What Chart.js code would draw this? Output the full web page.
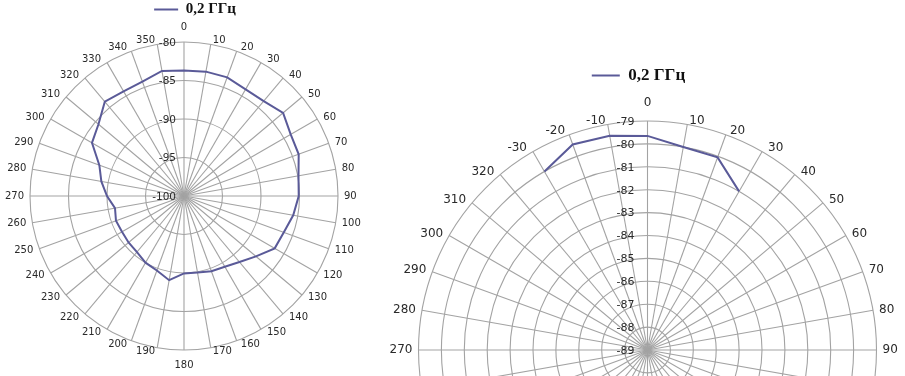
<!DOCTYPE html>
<html><head><meta charset="utf-8">
<script src="https://cdn.jsdelivr.net/npm/chart.js@4/dist/chart.umd.min.js"></script>
<style>
html,body{margin:0;padding:0;background:#fff;overflow:hidden;width:905px;height:376px;}
canvas{position:absolute;top:0;}
#c1{left:0;}
#c2{left:380px;}
</style></head><body>
<canvas id="c1" width="380" height="376"></canvas>
<canvas id="c2" width="525" height="376"></canvas>
<script>
// ---------- data ----------
const seriesName = "0,2 ГГц";

const leftAngles = ["0","10","20","30","40","50","60","70","80","90","100","110","120","130","140","150","160","170",
  "180","190","200","210","220","230","240","250","260","270","280","290","300","310","320","330","340","350"];
const leftValues = [-83.7,-83.6,-83.6,-84.0,-83.9,-83.2,-84.0,-84.15,-84.9,-85.1,-85.6,-86.2,-86.4,-87.8,-88.8,-89.4,-89.6,-89.9,
  -89.95,-88.9,-89.7,-90.0,-90.5,-90.6,-90.7,-90.6,-90.9,-90.0,-89.1,-88.3,-86.2,-85.5,-84.0,-84.3,-84.2,-83.5];
const leftTicks = [-100,-95,-90,-85,-80];

const rightAngles = ["0","10","20","30","40","50","60","70","80","90","100","110","120","130","140","150","160","170",
  "180","190","200","210","220","230","240","250","260","270","280","290","300","310","320","-30","-20","-10"];
const rightValues = [-79.65,-80.0,-80.05,-81.0,
  null,null,null,null,null,null,null,null,null,null,null,null,null,null,null,null,null,null,null,null,null,null,null,null,null,null,null,null,null,
  -80.0,-79.45,-79.5];
const rightTicks = [-89,-88,-87,-86,-85,-84,-83,-82,-81,-80,-79];

// ---------- styling ----------
const lineColor = '#5a5a98';
const gridColor = '#a3a3a3';
const textColor = '#2a2a2a';

function decorPlugin(cfg) {
  return {
    id: 'decor',
    afterDraw(chart) {
      const s = chart.scales.r, ctx = chart.ctx;
      ctx.save();
      ctx.fillStyle = textColor;
      ctx.font = cfg.tickFont;
      ctx.textAlign = 'right';
      ctx.textBaseline = 'middle';
      s.ticks.forEach(t => {
        const p = s.getPointPositionForValue(0, t.value);
        ctx.fillText(String(t.value), p.x - cfg.tickGap, p.y + 1);
      });
      ctx.font = cfg.labelFont;
      chart.data.labels.forEach((lab, i) => {
        const p = s.getPointPosition(i, s.drawingArea);
        const a = p.angle + Math.PI / 2;
        const sn = Math.sin(a), cs = Math.cos(a);
        let x = p.x, y = p.y;
        if (Math.abs(sn) < 1e-6) {
          ctx.textAlign = 'center';
          y += cs > 0 ? -cfg.vGap : cfg.vGap;
        } else {
          ctx.textAlign = sn > 0 ? 'left' : 'right';
          x += Math.sign(sn) * cfg.hGap * Math.min(1, Math.abs(sn) * 2);
          y -= cfg.vShift * cs;
        }
        ctx.fillText(lab, x, y);
      });
      ctx.restore();
    }
  };
}

function makeChart(id, labels, values, ticks, geo, legendCfg, decorCfg) {
  return new Chart(document.getElementById(id), {
    type: 'radar',
    data: {
      labels: labels,
      datasets: [{
        label: seriesName,
        data: values,
        borderColor: lineColor,
        backgroundColor: lineColor,
        borderWidth: 2,
        pointRadius: 0,
        pointHoverRadius: 0,
        fill: false,
        tension: 0,
        spanGaps: false,
        clip: false
      }]
    },
    options: {
      responsive: false,
      animation: false,
      devicePixelRatio: 1,
      layout: { padding: legendCfg.layoutPadding },
      plugins: {
        tooltip: { enabled: false },
        legend: {
          display: true,
          position: 'top',
          labels: {
            usePointStyle: true,
            pointStyle: 'line',
            pointStyleWidth: legendCfg.lineWidth,
            padding: 2,
            color: '#111',
            font: { family: '"Liberation Serif", serif', size: legendCfg.fontSize, weight: 'bold' }
          }
        }
      },
      scales: {
        r: {
          min: ticks[0],
          max: ticks[ticks.length - 1],
          afterBuildTicks: s => { s.ticks = ticks.map(v => ({ value: v, label: String(v) })); },
          afterFit: s => { s.xCenter = geo.cx; s.yCenter = geo.cy; s.drawingArea = geo.r; },
          ticks: { display: false },
          pointLabels: { display: false },
          grid: { circular: true, color: gridColor, lineWidth: 1.1 },
          angleLines: { display: true, color: gridColor, lineWidth: 1.1 }
        }
      }
    },
    plugins: [decorPlugin(decorCfg)]
  });
}

makeChart('c1', leftAngles, leftValues, leftTicks,
  { cx: 184, cy: 196, r: 154 },
  { layoutPadding: { top: 0, left: 10, right: 0, bottom: 0 }, fontSize: 15, lineWidth: 24 },
  { tickFont: '10.5px "DejaVu Sans"', labelFont: '10px "DejaVu Sans"', tickGap: 8, hGap: 6, vShift: 4, vGap: 15 });

makeChart('c2', rightAngles, rightValues, rightTicks,
  { cx: 267.5, cy: 350, r: 229 },
  { layoutPadding: { top: 65, left: 0, right: 8, bottom: 0 }, fontSize: 17, lineWidth: 28 },
  { tickFont: '11px "DejaVu Sans"', labelFont: '12px "DejaVu Sans"', tickGap: 13, hGap: 6, vShift: 4, vGap: 18 });
</script>
</body></html>
